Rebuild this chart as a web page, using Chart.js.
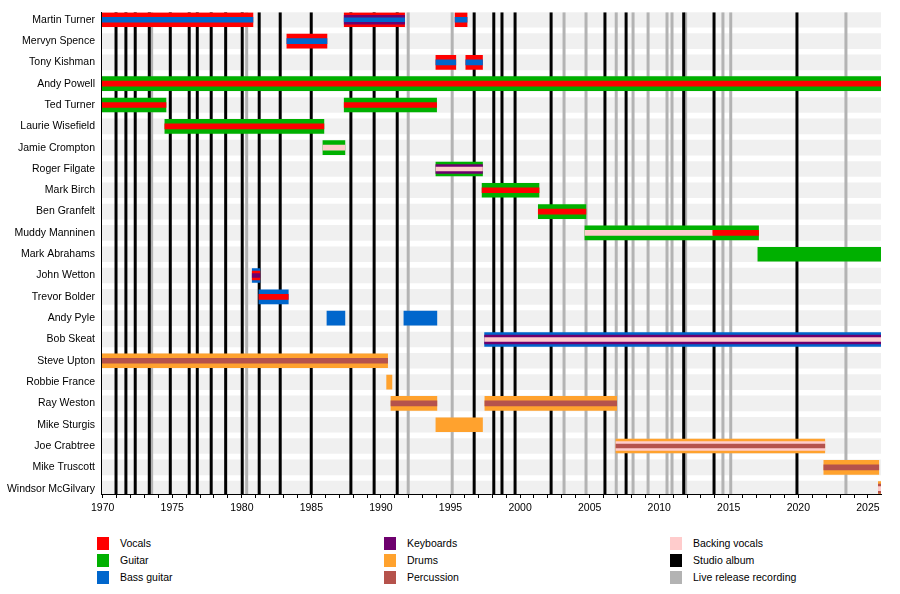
<!DOCTYPE html>
<html>
<head>
<meta charset="utf-8">
<title>Wishbone Ash timeline</title>
<script src="https://cdn.jsdelivr.net/npm/chart.js@4.4.1/dist/chart.umd.min.js"></script>
<style>
	body { margin: 0; background: #fff; font-family: "Liberation Sans", Arial, sans-serif; }
	#wrap { position: relative; width: 900px; height: 594px; }
	#chartBox { position: absolute; left: 0; top: 0; width: 900px; height: 525px; }
	.item { position: absolute; font-size: 10.5px; color: #000; line-height: 13px; }
	.box { position: absolute; left: 0; top: 0; width: 12px; height: 13px; }
	.label { position: absolute; left: 23px; top: 0; white-space: nowrap; }
</style>
</head>
<body>
<div id="wrap">
	<div id="chartBox"><canvas id="chart"></canvas></div>
	<div id="legend"></div>
</div>
<script>
const members = [
	"Martin Turner", "Mervyn Spence", "Tony Kishman", "Andy Powell", "Ted Turner",
	"Laurie Wisefield", "Jamie Crompton", "Roger Filgate", "Mark Birch", "Ben Granfelt",
	"Muddy Manninen", "Mark Abrahams", "John Wetton", "Trevor Bolder", "Andy Pyle",
	"Bob Skeat", "Steve Upton", "Robbie France", "Ray Weston", "Mike Sturgis",
	"Joe Crabtree", "Mike Truscott", "Windsor McGilvary"
];

const roles = ["Vocals", "Guitar", "Bass guitar", "Keyboards", "Drums", "Percussion", "Backing vocals"];

// [member, from, to, roles (main role first)]
const stints = [
	["Martin Turner", 1969.8, 1980.8, ["Vocals", "Bass guitar"]],
	["Martin Turner", 1987.36, 1991.7, ["Vocals", "Keyboards", "Bass guitar"]],
	["Martin Turner", 1995.33, 1996.19, ["Vocals", "Bass guitar"]],
	["Mervyn Spence", 1983.24, 1986.12, ["Vocals", "Bass guitar"]],
	["Tony Kishman", 1993.95, 1995.38, ["Vocals", "Bass guitar"]],
	["Tony Kishman", 1996.1, 1997.3, ["Vocals", "Bass guitar"]],
	["Andy Powell", 1969.8, 2026, ["Guitar", "Vocals"]],
	["Ted Turner", 1969.8, 1974.55, ["Guitar", "Vocals"]],
	["Ted Turner", 1987.36, 1994.0, ["Guitar", "Vocals"]],
	["Laurie Wisefield", 1974.47, 1985.9, ["Guitar", "Vocals"]],
	["Jamie Crompton", 1985.83, 1987.41, ["Guitar", "Backing vocals"]],
	["Roger Filgate", 1993.95, 1997.3, ["Guitar", "Keyboards", "Backing vocals"]],
	["Mark Birch", 1997.27, 2001.36, ["Guitar", "Vocals"]],
	["Ben Granfelt", 2001.31, 2004.73, ["Guitar", "Vocals"]],
	["Muddy Manninen", 2004.66, 2013.85, ["Guitar", "Backing vocals"]],
	["Muddy Manninen", 2013.85, 2017.14, ["Guitar", "Vocals"]],
	["Mark Abrahams", 2017.09, 2026, ["Guitar"]],
	["John Wetton", 1980.75, 1981.3, ["Bass guitar", "Vocals", "Keyboards"]],
	["Trevor Bolder", 1981.23, 1983.34, ["Bass guitar", "Vocals"]],
	["Andy Pyle", 1986.12, 1987.41, ["Bass guitar"]],
	["Andy Pyle", 1991.65, 1994.02, ["Bass guitar"]],
	["Bob Skeat", 1997.45, 2026, ["Bass guitar", "Keyboards", "Backing vocals"]],
	["Steve Upton", 1969.8, 1990.48, ["Drums", "Percussion"]],
	["Robbie France", 1990.41, 1990.79, ["Drums"]],
	["Ray Weston", 1990.72, 1994.02, ["Drums", "Percussion"]],
	["Ray Weston", 1997.47, 2006.94, ["Drums", "Percussion"]],
	["Mike Sturgis", 1993.95, 1997.3, ["Drums"]],
	["Joe Crabtree", 2006.89, 2021.9, ["Drums", "Backing vocals", "Percussion"]],
	["Mike Truscott", 2021.83, 2025.78, ["Drums", "Percussion"]],
	["Windsor McGilvary", 2025.75, 2026, ["Drums", "Percussion", "Backing vocals"]]
];

const studioAlbums = [
	1970.96, 1971.67, 1972.34, 1973.35, 1974.86, 1976.22, 1976.8, 1977.8, 1978.84,
	1980.03, 1981.25, 1982.76, 1984.99, 1987.84, 1989.51, 1991.17, 1996.7, 1998.11,
	1998.7, 1999.64, 2002.23, 2006.1, 2007.62, 2011.76, 2013.94, 2019.9
];

const liveRecordings = [
	1973.52, 1980.35, 1991.96, 1995.12, 2003.16, 2004.74, 2006.91, 2008.12, 2009.2,
	2010.56, 2010.92, 2011.9, 2014.58, 2015.14, 2023.42
];

const yearMin = 1969.88;
const yearMax = 2025.94;
const rowMin = -0.35;
const rowMax = 22.25;

const colors = {
	"Vocals": "#ff0000",
	"Guitar": "#00b000",
	"Bass guitar": "#0066cc",
	"Keyboards": "#6e006e",
	"Drums": "#ffa22e",
	"Percussion": "#b5524c",
	"Backing vocals": "#ffcccc",
	"Studio album": "#000000",
	"Live release recording": "#b3b3b3"
};

// thickness of each role layer, outer bar first
function layerThickness(level, count) {
	if (level === 0) return 14;
	if (level === 1) return count === 2 ? 5 : 9;
	return 4;
}

let layers = {};
stints.forEach(s => {
	let [name, from, to, list] = s;
	list.forEach((role, level) => {
		let t = layerThickness(level, list.length);
		let key = role + "|" + t + "|" + level;
		if (!layers[key]) {
			layers[key] = {
				type: "bar",
				label: role,
				indexAxis: "y",
				grouped: false,
				barThickness: t,
				backgroundColor: colors[role],
				borderWidth: 0,
				order: 3 - level,
				clip: 0,
				data: []
			};
		}
		layers[key].data.push({ x: [from, to], y: members.indexOf(name) });
	});
});

function verticalLines(years) {
	let pts = [];
	years.forEach(yr => {
		pts.push({ x: yr, y: rowMin }, { x: yr, y: rowMax }, { x: yr, y: null });
	});
	return pts;
}

let datasets = [
	{
		type: "bar",
		label: "rows",
		indexAxis: "y",
		grouped: false,
		barThickness: 15,
		backgroundColor: "#f0f0f0",
		borderWidth: 0,
		order: 10,
		clip: 0,
		data: members.map((m, i) => ({ x: [yearMin, yearMax], y: i }))
	},
	{
		type: "line",
		label: "Live release recording",
		indexAxis: "x",
		borderColor: colors["Live release recording"],
		borderWidth: 3,
		pointRadius: 0,
		fill: false,
		order: 9,
		clip: 0,
		data: verticalLines(liveRecordings)
	},
	{
		type: "line",
		label: "Studio album",
		indexAxis: "x",
		borderColor: colors["Studio album"],
		borderWidth: 3,
		pointRadius: 0,
		fill: false,
		order: 8,
		clip: 0,
		data: verticalLines(studioAlbums)
	}
].concat(Object.values(layers));

const axisFont = { family: '"Liberation Sans", Arial, sans-serif', size: 10.5 };

new Chart(document.getElementById("chart"), {
	type: "bar",
	data: { datasets: datasets },
	options: {
		indexAxis: "y",
		responsive: true,
		maintainAspectRatio: false,
		animation: false,
		layout: { padding: { top: 10, right: 19, bottom: 0, left: 0 } },
		plugins: {
			legend: { display: false },
			tooltip: { enabled: false }
		},
		scales: {
			x: {
				type: "linear",
				min: yearMin,
				max: yearMax,
				offset: false,
				grid: { display: true, drawOnChartArea: false, offset: false, tickLength: 4, tickColor: "#000" },
				border: { display: true, color: "#000", width: 1, z: 1 },
				ticks: {
					stepSize: 1,
					includeBounds: false,
					autoSkip: false,
					maxRotation: 0,
					minRotation: 0,
					padding: 4,
					color: "#000",
					font: axisFont,
					callback: v => (v % 5 === 0 ? String(v) : "")
				},
				afterFit: scale => { scale.height = 31; }
			},
			y: {
				type: "linear",
				reverse: true,
				min: rowMin,
				max: rowMax,
				offset: false,
				grid: { display: false, drawTicks: false, offset: false },
				border: { display: true, color: "#000", width: 1, z: 1 },
				ticks: {
					stepSize: 1,
					includeBounds: false,
					autoSkip: false,
					padding: 6,
					color: "#000",
					font: axisFont,
					callback: v => (Number.isInteger(v) ? members[v] : null)
				},
				afterFit: scale => { scale.width = 101; }
			}
		}
	}
});

// legend, three columns below the plot
const legendItems = roles.concat(["Studio album", "Live release recording"]);
const legendCols = [97, 384, 670];
let legend = document.getElementById("legend");
legendItems.forEach((name, i) => {
	let item = document.createElement("div");
	item.className = "item";
	item.style.left = legendCols[Math.floor(i / 3)] + "px";
	item.style.top = (537 + (i % 3) * 17) + "px";
	item.innerHTML = '<div class="box" style="background:' + colors[name] + '"></div><div class="label">' + name + "</div>";
	legend.appendChild(item);
});
</script>
</body>
</html>
